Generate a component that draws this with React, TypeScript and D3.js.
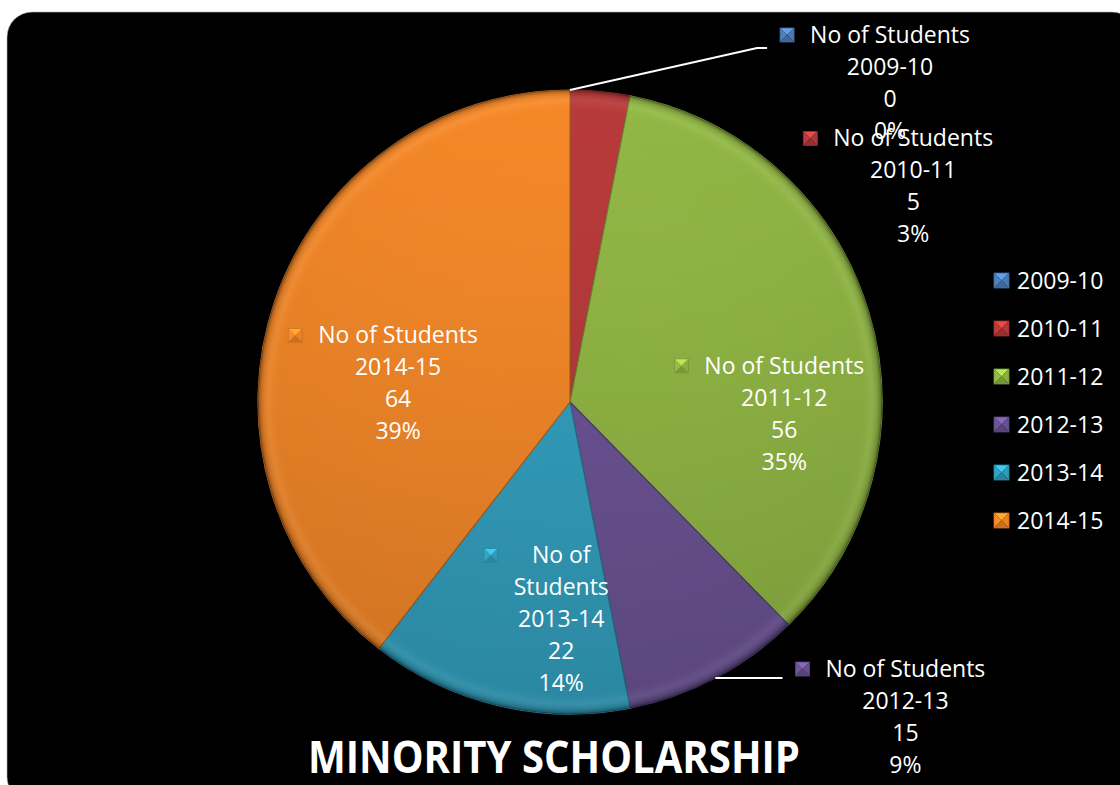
import React, { useRef, useEffect } from 'react';
import * as d3 from 'd3';

const categories = ['2009-10', '2010-11', '2011-12', '2012-13', '2013-14', '2014-15'];
const students = [0, 5, 56, 15, 22, 64];
const seriesName = 'No of Students';
const sliceColors = ['#4F81BD', '#BC3B3B', '#95BB46', '#6E5598', '#34A4C4', '#FA8B29'];
const chartTitle = 'MINORITY SCHOLARSHIP';

// label placement tweaks (Excel style best-fit). inside labels are moved from the
// slice centroid, outside labels from the point on the rim.
const labelNudge = [
  { dx: 320, dy: -7, outside: true, leader: true },
  { dx: 313, dy: 95, outside: true, leader: false },
  { dx: 20, dy: 70, outside: false, leader: false },
  { dx: 190, dy: 39, outside: true, leader: true },
  { dx: 38, dy: 20, outside: false, leader: false },
  { dx: 20, dy: 47, outside: false, leader: false },
];

const WIDTH = 1120;
const HEIGHT = 785;

// percentages that add up to 100, like Excel does for pie labels
function roundedPercents(values: number[]) {
  const total = d3.sum(values);
  const raw = values.map((v) => (v / total) * 100);
  const out = raw.map(Math.floor);
  let left = 100 - d3.sum(out);
  const order = raw.map((r, i) => ({ i, rem: r - Math.floor(r) })).sort((a, b) => b.rem - a.rem);
  for (const o of order) {
    if (left <= 0) break;
    out[o.i] += 1;
    left -= 1;
  }
  return out;
}

function drawMarker(g: any, x: number, y: number, color: string, size = 14) {
  const c = d3.color(color)!;
  const light = c.brighter(0.6).formatHex();
  const dark = c.darker(0.6).formatHex();
  const mid = c.darker(0.2).formatHex();
  const cx = x + size / 2;
  const cy = y + size / 2;
  const pts = [
    [[x, y], [x + size, y], [cx, cy]],
    [[x, y], [cx, cy], [x, y + size]],
    [[x + size, y], [x + size, y + size], [cx, cy]],
    [[x, y + size], [cx, cy], [x + size, y + size]],
  ];
  const fills = [light, color, mid, dark];
  pts.forEach((p, i) => {
    g.append('path').attr('d', 'M' + p.map((q) => q.join(',')).join('L') + 'Z').attr('fill', fills[i]);
  });
  g.append('rect')
    .attr('x', x)
    .attr('y', y)
    .attr('width', size)
    .attr('height', size)
    .attr('fill', 'none')
    .attr('stroke', dark)
    .attr('stroke-width', 0.8);
}

const App: React.FC = () => {
  const svgRef = useRef<SVGSVGElement>(null);

  useEffect(() => {
    if (!svgRef.current) return;
    const svg = d3.select(svgRef.current);
    svg.selectAll('*').remove();

    const font = "'Open Sans', 'Liberation Sans', sans-serif";
    const cx = 570;
    const cy = 402;
    const radius = 312;

    // background panel
    svg
      .append('rect')
      .attr('x', 7)
      .attr('y', 12)
      .attr('width', 1130)
      .attr('height', 790)
      .attr('rx', 25)
      .attr('fill', '#000')
      .attr('stroke', '#bbb')
      .attr('stroke-width', 0.6);

    const defs = svg.append('defs');
    const rim = defs
      .append('radialGradient')
      .attr('id', 'rim')
      .attr('gradientUnits', 'userSpaceOnUse')
      .attr('cx', cx)
      .attr('cy', cy)
      .attr('r', radius);
    [
      [0, '#fff', 0],
      [0.93, '#000', 0.02],
      [0.965, '#fff', 0.05],
      [0.988, '#000', 0.12],
      [1, '#000', 0.4],
    ].forEach(([o, c, a]) =>
      rim.append('stop').attr('offset', o as number).attr('stop-color', c as string).attr('stop-opacity', a as number)
    );
    const shade = defs
      .append('linearGradient')
      .attr('id', 'shade')
      .attr('x1', 0)
      .attr('y1', 0)
      .attr('x2', 0)
      .attr('y2', 1);
    shade.append('stop').attr('offset', 0).attr('stop-color', '#000').attr('stop-opacity', 0);
    shade.append('stop').attr('offset', 1).attr('stop-color', '#000').attr('stop-opacity', 0.16);

    const pie = d3
      .pie<number>()
      .sort(null)
      .value((d) => d)
      .startAngle(0)
      .endAngle(2 * Math.PI);
    const arcs = pie(students);
    const arc = d3.arc<d3.PieArcDatum<number>>().innerRadius(0).outerRadius(radius);
    const labelArc = d3.arc<d3.PieArcDatum<number>>().innerRadius(radius * 0.65).outerRadius(radius * 0.65);
    const rimArc = d3.arc<d3.PieArcDatum<number>>().innerRadius(radius).outerRadius(radius);

    const pieG = svg.append('g').attr('transform', `translate(${cx},${cy})`);
    pieG
      .selectAll('path.slice')
      .data(arcs)
      .enter()
      .append('path')
      .attr('class', 'slice')
      .attr('d', arc)
      .attr('fill', (_, i) => sliceColors[i])
      .attr('stroke', (_, i) => d3.color(sliceColors[i])!.darker(0.9).formatHex())
      .attr('stroke-width', 1.2)
      .attr('stroke-linejoin', 'round');

    pieG.append('circle').attr('r', radius).attr('cx', 0).attr('cy', 0).attr('fill', 'url(#shade)');
    svg.append('circle').attr('cx', cx).attr('cy', cy).attr('r', radius).attr('fill', 'url(#rim)');

    const percents = roundedPercents(students);
    const lineH = 32;
    const labelG = svg.append('g').attr('font-family', font).attr('font-size', 23).attr('fill', '#fff');

    arcs.forEach((a, i) => {
      const nudge = labelNudge[i];
      const [bx, by] = nudge.outside ? rimArc.centroid(a) : labelArc.centroid(a);
      const tx = cx + bx + nudge.dx;
      const wrapped = !nudge.outside && a.endAngle - a.startAngle < 1;
      const lines = wrapped
        ? ['No of', 'Students', categories[i], String(students[i]), percents[i] + '%']
        : [seriesName, categories[i], String(students[i]), percents[i] + '%'];
      const midY = cy + by + nudge.dy;
      const firstCenter = midY - ((lines.length - 1) * lineH) / 2;

      const g = labelG.append('g');
      let firstLeft = tx;
      lines.forEach((t, k) => {
        const txt = g
          .append('text')
          .attr('x', tx)
          .attr('y', firstCenter + k * lineH + 8)
          .attr('text-anchor', 'middle')
          .text(t);
        if (k === 0) {
          const w = (txt.node() as SVGTextElement).getComputedTextLength();
          firstLeft = tx - w / 2;
        }
      });
      const markerX = firstLeft - (wrapped ? 48 : 30);
      drawMarker(g, markerX, firstCenter - 7, sliceColors[i]);

      if (nudge.leader) {
        const [rx, ry] = rimArc.centroid(a);
        const ex = markerX - 13;
        const ey = i === 0 ? firstCenter + 13 : cy + ry;
        svg
          .append('polyline')
          .attr('points', [[cx + rx, cy + ry], [ex - 10, ey], [ex, ey]].map((p) => p.join(',')).join(' '))
          .attr('fill', 'none')
          .attr('stroke', '#fff')
          .attr('stroke-width', 2);
      }
    });

    // legend
    const legend = svg.append('g').attr('font-family', font).attr('font-size', 23).attr('fill', '#fff');
    categories.forEach((c, i) => {
      const y = 281 + i * 48;
      drawMarker(legend, 994, y - 8, sliceColors[i], 15);
      legend.append('text').attr('x', 1017).attr('y', y + 8).text(c);
    });

    // title
    svg
      .append('text')
      .attr('x', 554)
      .attr('y', 773)
      .attr('text-anchor', 'middle')
      .attr('font-family', font)
      .attr('font-weight', 700)
      .attr('font-size', 45)
      .attr('fill', '#fff')
      .attr('textLength', 492)
      .attr('lengthAdjust', 'spacingAndGlyphs')
      .text(chartTitle);
  }, []);

  return (
    <svg
      ref={svgRef}
      width={WIDTH}
      height={HEIGHT}
      style={{ position: 'absolute', left: 0, top: 0, background: '#fff', display: 'block' }}
    />
  );
};

export default App;
